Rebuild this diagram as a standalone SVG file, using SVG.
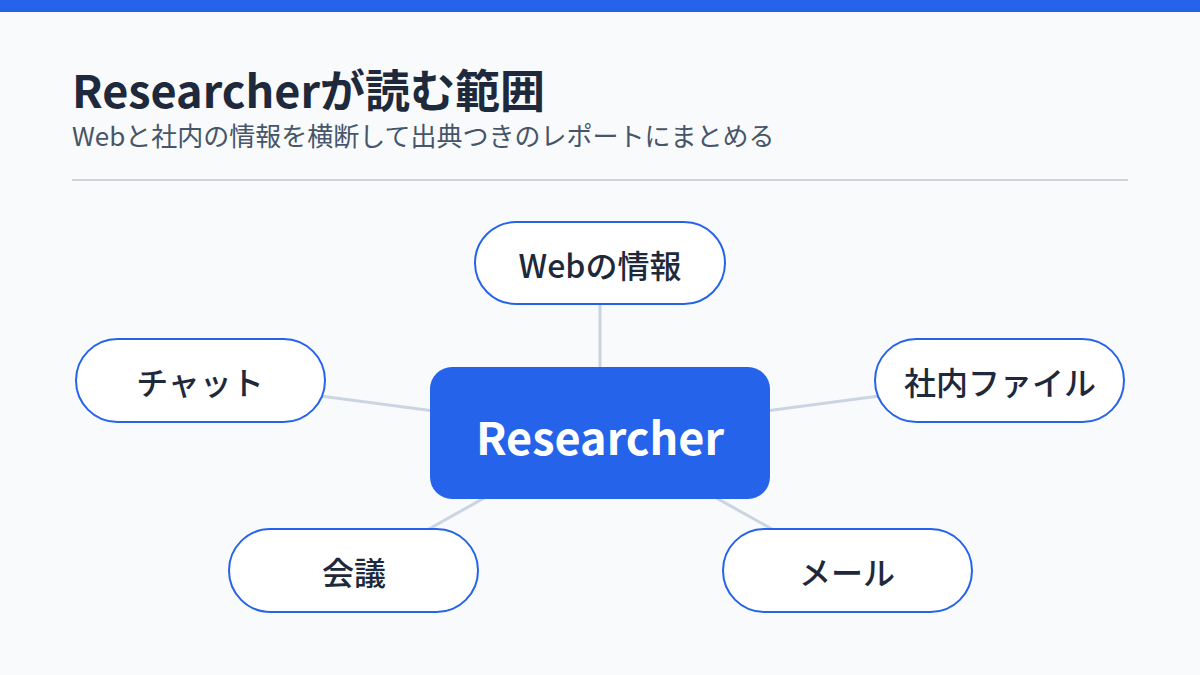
<svg xmlns="http://www.w3.org/2000/svg" width="1200" height="675" viewBox="0 0 1200 675">
<style>
.bg{fill:#f8fafc}
.title{font-family:"Noto Sans CJK JP","Noto Sans",sans-serif;font-weight:700;font-size:45px;fill:#1e293b}
.sub{font-family:"Noto Sans CJK JP","Noto Sans",sans-serif;font-weight:400;font-size:26px;fill:#475569}
.leaf rect{fill:#ffffff;stroke:#2563eb;stroke-width:2}
.leaf text{font-family:"Noto Sans CJK JP","Noto Sans",sans-serif;font-weight:500;font-size:32px;fill:#1e293b;text-anchor:middle;dominant-baseline:central}
.hub rect{fill:#2563eb}
.hub text{font-family:"Noto Sans CJK JP","Noto Sans",sans-serif;font-weight:700;font-size:45px;fill:#ffffff;text-anchor:middle;dominant-baseline:central}
.conn line{stroke:#cbd5e1;stroke-width:3}
</style>
<rect class="bg" x="0" y="0" width="1200" height="675"/>
<rect x="0" y="0" width="1200" height="12" fill="#2563eb"/>
<text class="title" x="72" y="108">Researcherが読む範囲</text>
<text class="sub" x="72" y="146">Webと社内の情報を横断して出典つきのレポートにまとめる</text>
<line x1="72" y1="180" x2="1128" y2="180" stroke="#d1d5db" stroke-width="2"/>
<g id="connectors" class="conn">
<line x1="600" y1="433" x2="600" y2="263"/>
<line x1="600" y1="433" x2="200" y2="380"/>
<line x1="600" y1="433" x2="1000" y2="380"/>
<line x1="600" y1="433" x2="354" y2="571"/>
<line x1="600" y1="433" x2="847" y2="571"/>
</g>
<g id="hub" class="hub">
<rect x="430" y="367" width="340" height="132" rx="22"/>
<text x="600" y="435">Researcher</text>
</g>
<g id="web" class="leaf">
<rect x="475" y="222" width="250" height="82" rx="41"/>
<text x="600" y="264">Webの情報</text>
</g>
<g id="chat" class="leaf">
<rect x="76" y="339" width="249" height="83" rx="41.5"/>
<text x="200" y="381">チャット</text>
</g>
<g id="files" class="leaf">
<rect x="875" y="339" width="249" height="83" rx="41.5"/>
<text x="1000" y="381">社内ファイル</text>
</g>
<g id="meeting" class="leaf">
<rect x="229" y="529" width="249" height="83" rx="41.5"/>
<text x="354" y="571">会議</text>
</g>
<g id="mail" class="leaf">
<rect x="723" y="529" width="249" height="83" rx="41.5"/>
<text x="847" y="571">メール</text>
</g>
</svg>
